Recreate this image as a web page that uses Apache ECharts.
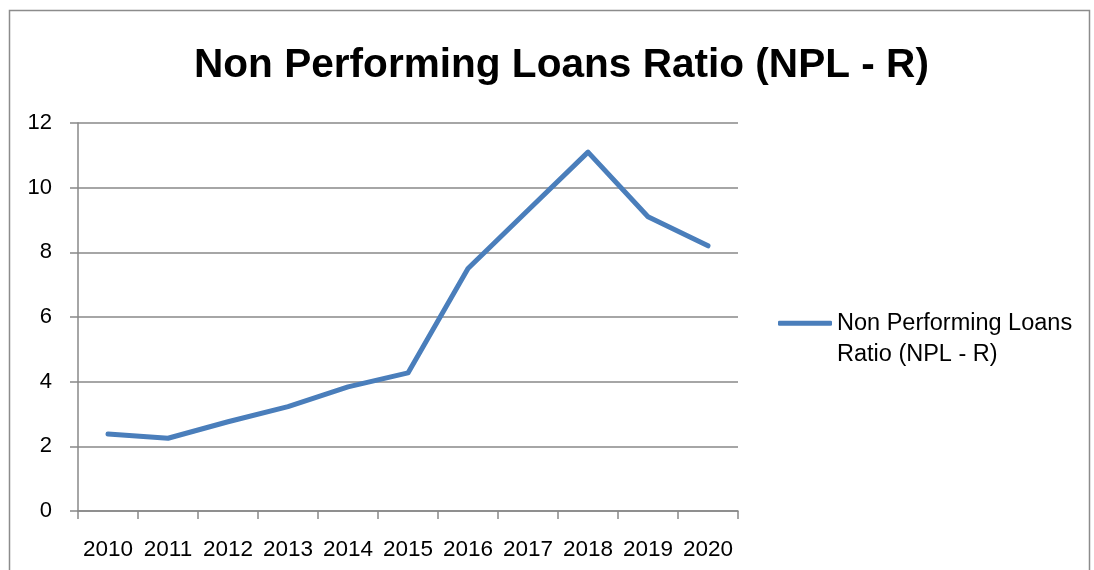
<!DOCTYPE html>
<html>
<head>
<meta charset="utf-8">
<script src="https://cdn.jsdelivr.net/npm/echarts@6/dist/echarts.min.js"></script>
<style>
html,body{margin:0;padding:0;background:#fff;}
#chart{width:1094px;height:570px;}
</style>
</head>
<body>
<div id="chart"></div>
<script>
var titleText = 'Non Performing Loans Ratio (NPL - R)';
var seriesName = 'Non Performing Loans Ratio (NPL - R)';
var years = ['2010','2011','2012','2013','2014','2015','2016','2017','2018','2019','2020'];
var nplRatio = [2.38, 2.25, 2.76, 3.23, 3.84, 4.27, 7.5, 9.3, 11.1, 9.1, 8.2];
var yTicks = [0, 2, 4, 6, 8, 10, 12];

var font = 'Liberation Sans, Arial, sans-serif';
var chart = echarts.init(document.getElementById('chart'), null, {renderer: 'canvas'});
chart.setOption({
  backgroundColor: '#fff',
  animation: false,
  title: {
    text: titleText,
    left: 189,
    top: 40,
    textStyle: {fontFamily: font, fontWeight: 'bold', fontSize: 40.6, color: '#000'}
  },
  graphic: [{
    type: 'rect',
    shape: {x: 9.5, y: 10.5, width: 1080, height: 600},
    style: {fill: 'none', stroke: '#8c8c8c', lineWidth: 1.5},
    silent: true
  }],
  legend: {
    left: 778,
    top: 276,
    padding: 0,
    orient: 'vertical',
    itemWidth: 54,
    itemHeight: 5,
    icon: 'roundRect',
    itemStyle: {color: '#4a7ebb', borderWidth: 0},
    data: [seriesName],
    formatter: function () { return '\nNon Performing Loans\nRatio (NPL - R)'; },
    textStyle: {fontFamily: font, fontSize: 23.5, color: '#000', lineHeight: 31.5},
    selectedMode: false
  },
  grid: {left: 78, top: 123, width: 660, height: 388, containLabel: false},
  xAxis: {
    type: 'category',
    data: years,
    boundaryGap: true,
    axisLine: {show: true, lineStyle: {color: '#888', width: 1.5}},
    axisTick: {show: true, length: 8, inside: false, lineStyle: {color: '#888', width: 1.5}},
    axisLabel: {interval: 0, margin: 27, fontFamily: font, fontSize: 22.5, color: '#000'},
    splitLine: {show: false}
  },
  yAxis: {
    type: 'value',
    min: 0, max: 12, interval: 2,
    axisLine: {show: true, lineStyle: {color: '#888', width: 1.5}},
    axisTick: {show: true, length: 8, lineStyle: {color: '#888', width: 1.5}},
    axisLabel: {margin: 26, fontFamily: font, fontSize: 22, color: '#000'},
    splitLine: {show: true, lineStyle: {color: '#888', width: 1.5}}
  },
  series: [{
    name: seriesName,
    type: 'line',
    data: nplRatio,
    symbol: 'none',
    lineStyle: {color: '#4a7ebb', width: 5, cap: 'round', join: 'round'},
    itemStyle: {color: '#4a7ebb'}
  }]
});
</script>
</body>
</html>
